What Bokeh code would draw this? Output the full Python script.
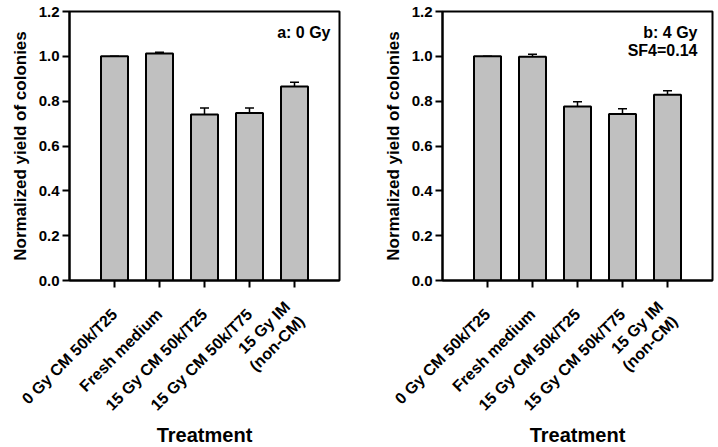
import math
from bokeh.plotting import figure
from bokeh.models import ColumnDataSource, FactorRange, Range1d, Whisker, TeeHead, Label, FixedTicker, NumeralTickFormatter
from bokeh.layouts import row
from bokeh.embed import file_html
from bokeh.resources import INLINE

treatments = ["0 Gy CM 50k/T25", "Fresh medium", "15 Gy CM 50k/T25", "15 Gy CM 50k/T75", "15 Gy IM\n(non-CM)"]
yield_0gy = [1.0, 1.013, 0.741, 0.747, 0.865]
err_0gy = [0.0, 0.005, 0.028, 0.022, 0.019]
yield_4gy = [1.0, 0.998, 0.776, 0.743, 0.829]
err_4gy = [0.0, 0.011, 0.021, 0.023, 0.017]
y_ticks = [0.0, 0.2, 0.4, 0.6, 0.8, 1.0, 1.2]
notes_a = ["a: 0 Gy"]
notes_b = ["b: 4 Gy", "SF4=0.14"]

FONT = "Liberation Sans"


def panel(values, errs, notes, bl, fw, br, note_off):
    src = ColumnDataSource(dict(
        x=treatments, y=values,
        upper=[v + e for v, e in zip(values, errs)],
    ))
    p = figure(
        x_range=FactorRange(factors=treatments, range_padding=0.5, range_padding_units="absolute"),
        y_range=Range1d(0, 1.2),
        frame_width=fw, frame_height=269,
        min_border_left=bl, min_border_right=br, min_border_top=11, min_border_bottom=166,
        output_backend="svg", toolbar_location=None,
    )
    p.vbar(x="x", top="y", width=0.6, source=src, fill_color="#c0c0c0",
           line_color="black", line_width=2)
    w = Whisker(source=src, base="x", upper="upper", lower="y", dimension="height",
                line_color="black", line_width=1.5,
                upper_head=TeeHead(size=9, line_width=1.5, line_color="black"),
                lower_head=None)
    p.add_layout(w)

    p.xgrid.visible = False
    p.ygrid.visible = False
    p.outline_line_color = "black"
    p.outline_line_width = 2
    p.background_fill_color = "white"
    p.border_fill_color = "white"

    for ax in (p.xaxis[0], p.yaxis[0]):
        ax.axis_line_width = 2
        ax.axis_line_color = "black"
        ax.major_tick_line_width = 2
        ax.major_tick_line_color = "black"
        ax.major_tick_out = 7
        ax.major_tick_in = 0
        ax.minor_tick_line_color = None
        ax.major_label_text_font = FONT
        ax.major_label_text_font_style = "bold"
        ax.major_label_text_color = "black"
        ax.axis_label_text_font = FONT
        ax.axis_label_text_font_style = "bold"
        ax.axis_label_text_color = "black"

    p.yaxis.ticker = FixedTicker(ticks=y_ticks)
    p.yaxis.formatter = NumeralTickFormatter(format="0.0")
    p.yaxis.major_label_text_font_size = "15px"
    p.yaxis.major_label_standoff = 3
    p.yaxis.axis_label = "Normalized yield of colonies"
    p.yaxis.axis_label_text_font_size = "17px"
    p.yaxis.axis_label_standoff = 6

    p.xaxis.major_label_orientation = math.pi / 4
    p.xaxis.major_label_text_font_size = "16px"
    p.xaxis.major_label_standoff = 24
    p.xaxis.axis_label = "Treatment"
    p.xaxis.axis_label_text_font_size = "20px"
    p.xaxis.axis_label_standoff = 1

    for i, t in enumerate(notes):
        p.add_layout(Label(x=fw - note_off, y=248 - 18 * i, x_units="screen", y_units="screen",
                           text=t, text_align="right", text_baseline="middle",
                           text_font=FONT, text_font_style="bold", text_font_size="16px",
                           text_color="black"))
    return p


pa = panel(yield_0gy, err_0gy, notes_a, 69, 270, 20, 9)
pb = panel(yield_4gy, err_4gy, notes_b, 83, 270, 5, 15)
layout = row(pa, pb)

open("out.html", "w").write(file_html(layout, INLINE))
